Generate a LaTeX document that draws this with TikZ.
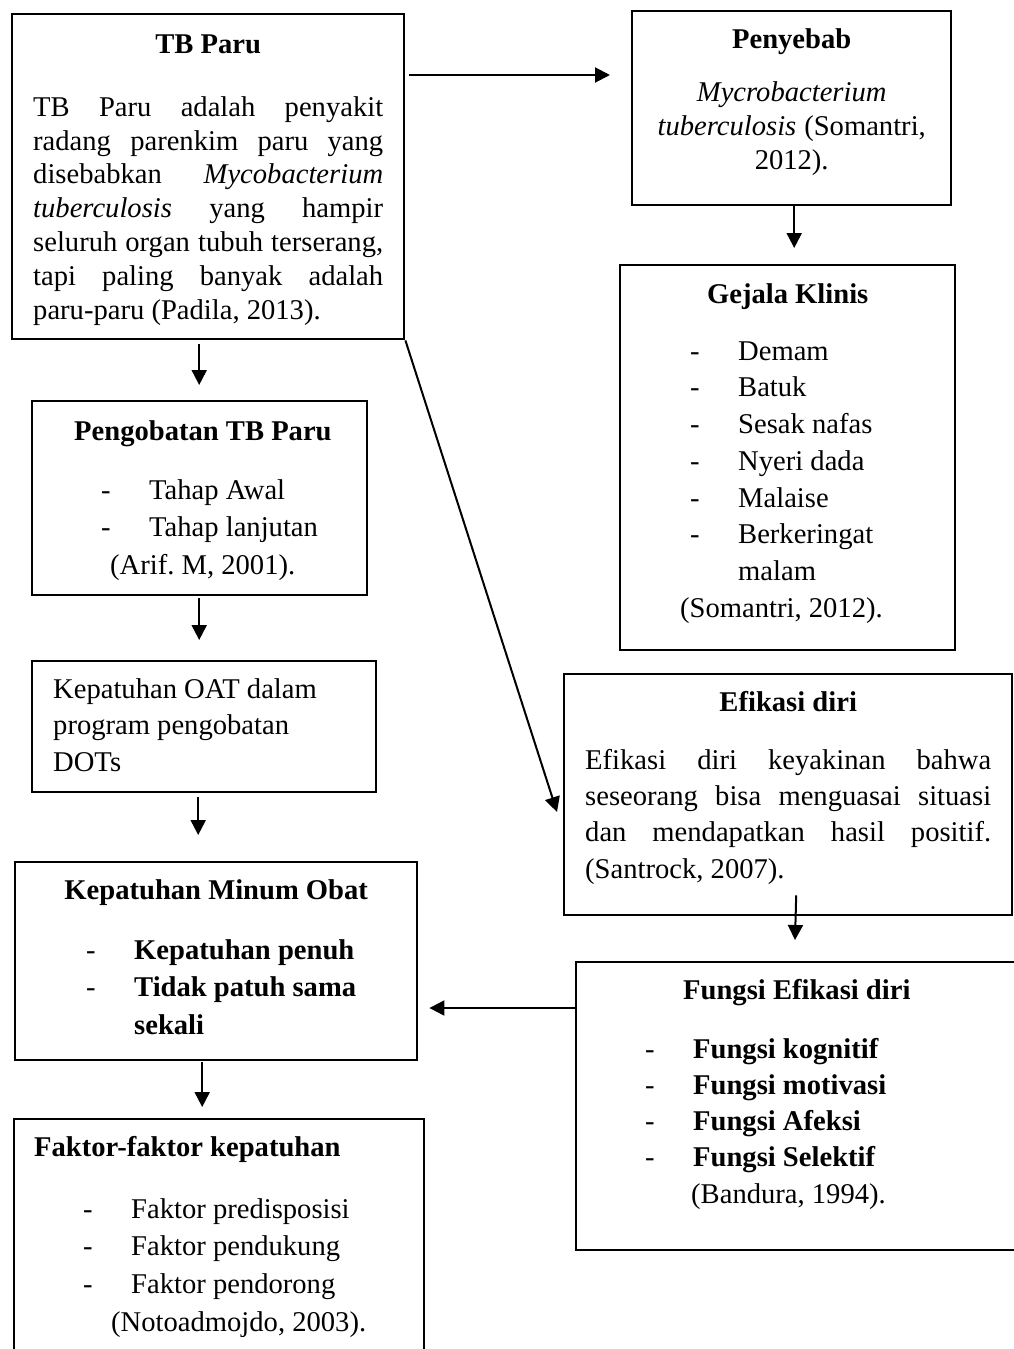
\documentclass[tikz,border=0pt]{standalone}
\usepackage{fontspec}
\setmainfont{Liberation Serif}
\usetikzlibrary{arrows.meta}
\frenchspacing

\newcommand{\itm}[1]{\makebox[48pt][l]{-}#1}
\newcommand{\jl}[1]{\makebox[\linewidth][s]{#1}}

\begin{document}
\begin{tikzpicture}[x=1pt, y=-1pt, line width=2pt, >={Triangle[length=15pt, width=15pt]},
		main/.style = {draw, line width=2.4pt, anchor=north west, inner ysep=0pt, align=left,
			execute at begin node={\spaceskip=0pt \xspaceskip=0pt}}]
		\path[use as bounding box, fill=white] (0,0) rectangle (1014,1349);

		\node[main, inner xsep=21pt, text width=350pt, text height=39pt, text depth=286pt,
			font=\fontsize{28.6}{33.8}\selectfont] (1) at (11,13)
			{{\centering\textbf{TB Paru}\par}\vspace{29.2pt}
			\jl{TB Paru adalah penyakit}\\
			\jl{radang parenkim paru yang}\\
			\jl{disebabkan \textit{Mycobacterium}}\\
			\jl{\textit{tuberculosis} yang hampir}\\
			\jl{seluruh organ tubuh terserang,}\\
			\jl{tapi paling banyak adalah}\\
			paru-paru (Padila, 2013).};
		\node[main, inner xsep=12pt, text width=295pt, text height=37pt, text depth=157pt, align=center,
			font=\fontsize{28.6}{34}\selectfont] (2) at (631,10)
			{\textbf{Penyebab}\\[19pt] \textit{Mycrobacterium}\\ \textit{tuberculosis} (Somantri,\\ 2012).};
		\node[main, inner xsep=15pt, text width=305pt, text height=38pt, text depth=347pt,
			font=\fontsize{28.6}{36.7}\selectfont] (3) at (619,264)
			{{\centering\textbf{Gejala Klinis}\par}\vspace{20.3pt}
			\hspace*{55pt}\itm{Demam}\\
			\hspace*{55pt}\itm{Batuk}\\
			\hspace*{55pt}\itm{Sesak nafas}\\
			\hspace*{55pt}\itm{Nyeri dada}\\
			\hspace*{55pt}\itm{Malaise}\\
			\hspace*{55pt}\itm{Berkeringat}\\
			\hspace*{103pt}malam\\
			\hspace*{45pt}(Somantri, 2012).};
		\node[main, inner xsep=10pt, text width=315pt, text height=39pt, text depth=155pt,
			font=\fontsize{28.6}{37.5}\selectfont] (4) at (31,400)
			{\hspace*{32pt}\textbf{Pengobatan TB Paru}\\[21.5pt]
			\hspace*{59pt}\itm{Tahap Awal}\\
			\hspace*{59pt}\itm{Tahap lanjutan}\\
			\hspace*{68pt}(Arif. M, 2001).};
		\node[main, inner xsep=21pt, text width=302pt, text height=37pt, text depth=94pt,
			font=\fontsize{28.6}{36.5}\selectfont] (5) at (31,660)
			{Kepatuhan OAT dalam\\ program pengobatan\\ DOTs};
		\node[main, inner xsep=21pt, text width=406pt, text height=37pt, text depth=204pt,
			font=\fontsize{28.6}{36.3}\selectfont] (6) at (563,673)
			{{\centering\textbf{Efikasi diri}\par}\vspace{21.7pt}
			\jl{Efikasi diri keyakinan bahwa}\\
			\jl{seseorang bisa menguasai situasi}\\
			\jl{dan mendapatkan hasil positif.}\\
			(Santrock, 2007).};
		\node[main, inner xsep=10pt, text width=382pt, text height=37pt, text depth=161pt,
			font=\fontsize{28.6}{37.5}\selectfont] (7) at (14,861)
			{{\centering\textbf{Kepatuhan Minum Obat}\par}\vspace{22.5pt}
			\hspace*{61pt}\itm{\textbf{Kepatuhan penuh}}\\
			\hspace*{61pt}\itm{\textbf{Tidak patuh sama}}\\
			\hspace*{109pt}\textbf{sekali}};
		\node[main, inner xsep=15pt, text width=425pt, text height=37pt, text depth=251pt,
			font=\fontsize{28.6}{36.25}\selectfont] (8) at (575,961)
			{\hspace*{92pt}\textbf{Fungsi Efikasi diri}\\[22.75pt]
			\hspace*{54pt}\itm{\textbf{Fungsi kognitif}}\\
			\hspace*{54pt}\itm{\textbf{Fungsi motivasi}}\\
			\hspace*{54pt}\itm{\textbf{Fungsi Afeksi}}\\
			\hspace*{54pt}\itm{\textbf{Fungsi Selektif}}\\
			\hspace*{100pt}(Bandura, 1994).};
		\node[main, inner xsep=20pt, text width=370pt, text height=37pt, text depth=213pt,
			font=\fontsize{28.6}{37.7}\selectfont] (9) at (13,1118)
			{\textbf{Faktor-faktor kepatuhan}\\[24.3pt]
			\hspace*{49pt}\itm{Faktor predisposisi}\\
			\hspace*{49pt}\itm{Faktor pendukung}\\
			\hspace*{49pt}\itm{Faktor pendorong}\\
			\hspace*{77pt}(Notoadmojdo, 2003).};

		\draw[->] ([shift={(4,62)}]1.north east) -- ([shift={(-21,65)}]2.north west);
		\draw[->] ([shift={(2.5,0)}]2.south) -- ([shift={(6.5,-16)}]3.north);
		\draw[->] ([shift={(-9,4)}]1.south) -- ([shift={(-0.5,-15)}]4.north);
		\draw[->] (1.south east) -- ([shift={(-6,139)}]6.north west);
		\draw[->] ([shift={(-0.5,2)}]4.south) -- ([shift={(-5,-20)}]5.north);
		\draw[->] ([shift={(-6,4)}]5.south) -- ([shift={(-18,-26)}]7.north);
		\draw[->] ([shift={(8,-21)}]6.south) -- ([shift={(220,-21)}]8.north west);
		\draw[->] ([shift={(0,47)}]8.north west) -- ([shift={(11,147)}]7.north east);
		\draw[->] ([shift={(-14,1)}]7.south) -- ([shift={(-17,-11)}]9.north);
	\end{tikzpicture}
\end{document}
